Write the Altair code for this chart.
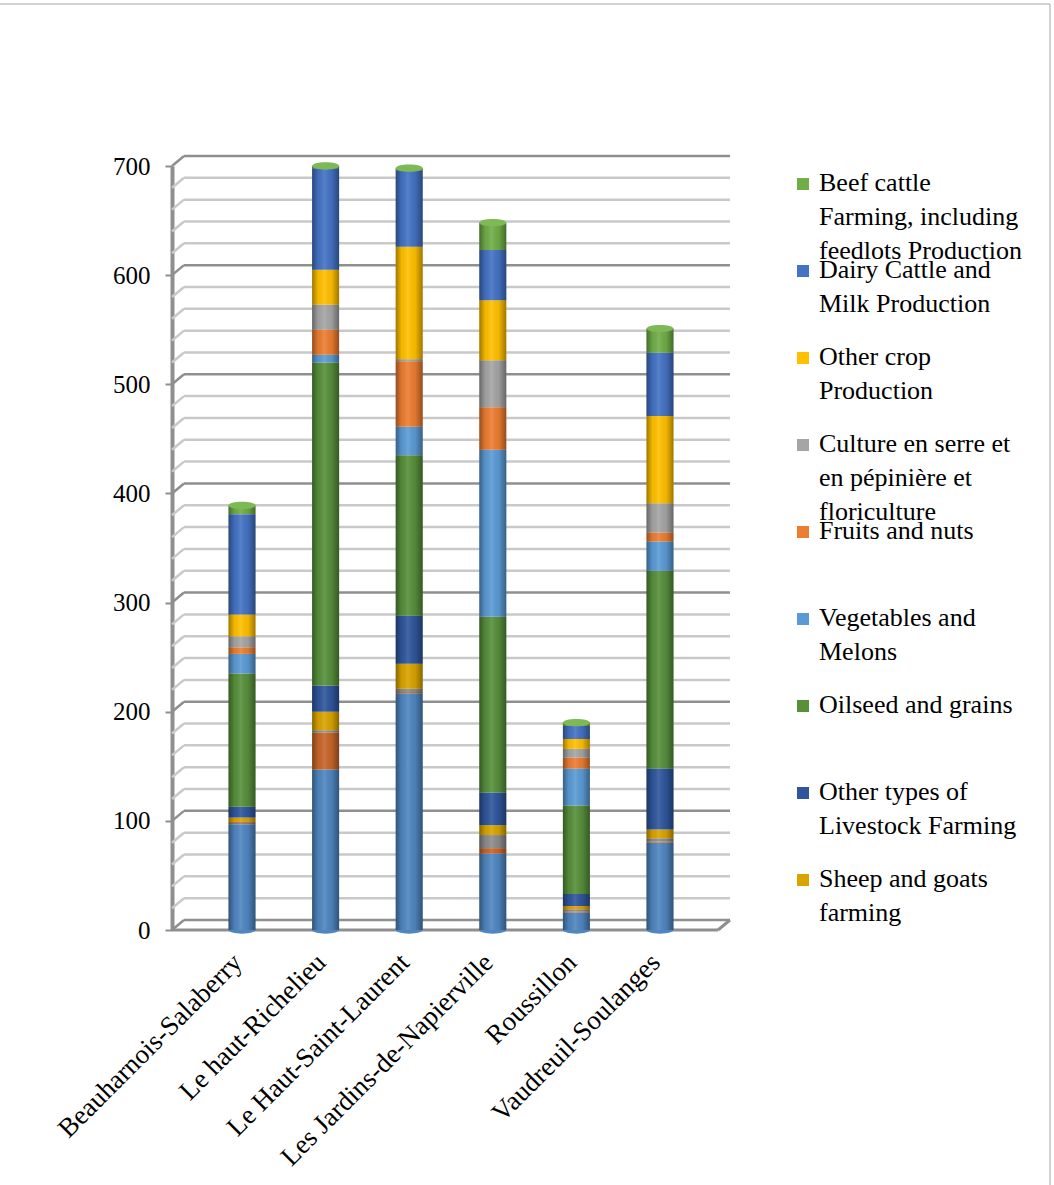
import altair as alt
import pandas as pd

# Census divisions (x axis)
regions = [
    "Beauharnois-Salaberry",
    "Le haut-Richelieu",
    "Le Haut-Saint-Laurent",
    "Les Jardins-de-Napierville",
    "Roussillon",
    "Vaudreuil-Soulanges",
]

# Farm types, stacked from the bottom of each column upward
series_names = [
    "Hog and pig farming",
    "Poultry and egg Production",
    "Other animal Production",
    "Sheep and goats farming",
    "Other types of Livestock Farming",
    "Oilseed and grains",
    "Vegetables and Melons",
    "Fruits and nuts",
    "Culture en serre et en pépinière et floriculture",
    "Other crop Production",
    "Dairy Cattle and Milk Production",
    "Beef cattle Farming, including feedlots Production",
]
series_colors = [
    "#4f86c0", "#c8652a", "#8c8c8c", "#d9a400", "#2f569c", "#578f3b",
    "#5b9bd5", "#ed7d31", "#a5a5a5", "#ffc000", "#4472c4", "#70ad47",
]

# Number of farms per type and division
hog = [97, 147, 217, 70, 16, 80]
poultry = [1, 34, 1, 5, 1, 1]
other_animal = [1, 2, 3, 12, 2, 3]
sheep_goats = [4, 17, 23, 9, 3, 8]
other_livestock = [10, 24, 44, 30, 11, 56]
oilseed = [122, 296, 147, 161, 81, 181]
vegetables = [18, 7, 26, 153, 34, 27]
fruits = [6, 23, 60, 39, 10, 8]
greenhouse = [10, 23, 2, 43, 8, 27]
other_crop = [20, 32, 103, 55, 9, 80]
dairy = [92, 93, 70, 46, 12, 58]
beef = [8, 2, 2, 25, 3, 22]

series_values = [hog, poultry, other_animal, sheep_goats, other_livestock, oilseed,
                 vegetables, fruits, greenhouse, other_crop, dairy, beef]

# Legend entries (top of the stack first) with their wrapped labels
legend_names = list(reversed(series_names))[:9]
legend_labels = [
    "Beef cattle\nFarming, including\nfeedlots Production",
    "Dairy Cattle and\nMilk Production",
    "Other crop\nProduction",
    "Culture en serre et\nen pépinière et\nfloriculture",
    "Fruits and nuts",
    "Vegetables and\nMelons",
    "Oilseed and grains",
    "Other types of\nLivestock Farming",
    "Sheep and goats\nfarming",
]

y_ticks = list(range(0, 701, 100))
grid_steps = list(range(0, 701, 20))

rows = []
for si, (name, vals) in enumerate(zip(series_names, series_values)):
    for region, v in zip(regions, vals):
        rows.append({"region": region, "series": name, "value": v, "order": si})
df = pd.DataFrame(rows)

totals = pd.DataFrame({
    "region": regions,
    "value": [sum(vals[i] for vals in series_values) for i in range(len(regions))],
})
zeros = pd.DataFrame({"region": regions, "value": [0] * len(regions)})
minor_df = pd.DataFrame({"value": [v for v in grid_steps if v % 100 != 0]})
major_df = pd.DataFrame({"value": y_ticks})
floor_df = pd.DataFrame({"value": [0]})
legend_df = pd.DataFrame({"series": legend_names, "label": legend_labels})

W, H = 558, 764
PAD_L, PAD_T = 172, 166
DEPTH_X, DEPTH_Y = 12, -10
SERIF = "Liberation Serif"
GRID_MAJOR = "#8f8f8f"
GRID_MINOR = "#c9c9c9"
FRAME = "#a6a6a6"

y_scale = alt.Scale(domain=[0, 700], nice=False, zero=True)
x_scale = alt.Scale(domain=regions, paddingInner=0.677, paddingOuter=0.676)
color_scale = alt.Scale(domain=series_names, range=series_colors)


def x_enc():
    return alt.X(
        "region:N", scale=x_scale, sort=regions,
        axis=alt.Axis(title=None, labelAngle=-45, labelAlign="right", labelBaseline="middle",
                      labelFont=SERIF, labelFontSize=27, labelColor="black",
                      labelPadding=28, labelOffset=-4, domain=False, ticks=False,
                      labelLimit=400),
    )


def y_plain():
    return alt.Y("value:Q", scale=y_scale, axis=None)


# back-wall gridlines with short diagonal connectors to the front axis
minor = alt.Chart(minor_df).mark_rule(
    color=GRID_MINOR, strokeWidth=2.5, yOffset=DEPTH_Y, y2Offset=DEPTH_Y
).encode(y=y_plain(), x=alt.value(DEPTH_X), x2=alt.value(W))
minor_diag = alt.Chart(minor_df).mark_rule(
    color=GRID_MINOR, strokeWidth=2.5, y2Offset=DEPTH_Y
).encode(y=y_plain(), y2="value:Q", x=alt.value(0), x2=alt.value(DEPTH_X))
major = alt.Chart(major_df).mark_rule(
    color=GRID_MAJOR, strokeWidth=2.5, yOffset=DEPTH_Y, y2Offset=DEPTH_Y
).encode(y=y_plain(), x=alt.value(DEPTH_X), x2=alt.value(W))
major_diag = alt.Chart(major_df).mark_rule(
    color=GRID_MAJOR, strokeWidth=2.5, y2Offset=DEPTH_Y
).encode(y=y_plain(), y2="value:Q", x=alt.value(0), x2=alt.value(DEPTH_X))
floor_front = alt.Chart(floor_df).mark_rule(color=GRID_MAJOR, strokeWidth=3).encode(
    y=y_plain(), x=alt.value(0), x2=alt.value(W - DEPTH_X))
floor_side = alt.Chart(floor_df).mark_rule(color=GRID_MAJOR, strokeWidth=3, y2Offset=DEPTH_Y).encode(
    y=y_plain(), y2="value:Q", x=alt.value(W - DEPTH_X), x2=alt.value(W))

# outer chart frame (top and right edges)
frame_top = alt.Chart(floor_df).mark_rule(color=FRAME, strokeWidth=1).encode(
    x=alt.value(-PAD_L), x2=alt.value(1050 - PAD_L), y=alt.value(4 - PAD_T))
frame_right = alt.Chart(floor_df).mark_rule(color=FRAME, strokeWidth=1).encode(
    x=alt.value(1050 - PAD_L), y=alt.value(4 - PAD_T), y2=alt.value(1185 - PAD_T))

# stacked columns
bars = alt.Chart(df).mark_bar().encode(
    x=x_enc(),
    y=alt.Y("value:Q", stack="zero", scale=y_scale,
            axis=alt.Axis(title=None, values=y_ticks, grid=False,
                          domainColor=GRID_MAJOR, domainWidth=4,
                          tickColor=GRID_MAJOR, tickWidth=2, tickSize=7,
                          labelFont=SERIF, labelFontSize=25, labelColor="black",
                          labelPadding=15)),
    color=alt.Color("series:N", scale=color_scale, legend=None),
    order=alt.Order("order:Q"),
)

ELLIPSE = "M-1,0 A1,0.27 0 1,1 1,0 A1,0.27 0 1,1 -1,0 Z"
base_caps = alt.Chart(zeros).mark_point(
    shape=ELLIPSE, size=729, filled=True, opacity=1, color=series_colors[0], strokeWidth=0
).encode(x=x_enc(), y=y_plain())

shade = alt.Chart(totals).mark_bar(
    color=alt.LinearGradient(
        gradient="linear", x1=0, x2=1, y1=0, y2=0,
        stops=[
            alt.GradientStop(color="rgba(0,0,0,0.38)", offset=0),
            alt.GradientStop(color="rgba(0,0,0,0.05)", offset=0.22),
            alt.GradientStop(color="rgba(255,255,255,0.10)", offset=0.45),
            alt.GradientStop(color="rgba(0,0,0,0.05)", offset=0.72),
            alt.GradientStop(color="rgba(0,0,0,0.38)", offset=1),
        ],
    )
).encode(x=x_enc(), y=y_plain())

top_caps = alt.Chart(totals).mark_point(
    shape=ELLIPSE, size=729, filled=True, opacity=1, color="#7dba55", strokeWidth=0
).encode(x=x_enc(), y=y_plain())

# legend to the right of the plot
leg_y = alt.Y("series:N", sort=legend_names,
              scale=alt.Scale(type="point", domain=legend_names, padding=0.391, align=0.265),
              axis=None)
leg_sq = alt.Chart(legend_df).mark_square(size=144, filled=True, opacity=1).encode(
    y=leg_y, x=alt.value(W + 73),
    color=alt.Color("series:N", scale=color_scale, legend=None))
leg_txt = alt.Chart(legend_df).mark_text(
    align="left", baseline="top", dy=-14, lineBreak="\n", lineHeight=34,
    font=SERIF, fontSize=26, color="black"
).encode(y=leg_y, x=alt.value(W + 89), text="label:N")

chart = alt.layer(
    frame_top, frame_right,
    minor, minor_diag, major, major_diag, floor_front, floor_side,
    bars, base_caps, shade, top_caps, leg_sq, leg_txt,
).resolve_scale(y="independent").properties(
    width=W, height=H,
    padding={"left": PAD_L, "top": PAD_T, "right": 1054 - PAD_L - W, "bottom": 1185 - PAD_T - H},
    autosize=alt.AutoSizeParams(type="none"),
    background="white",
).configure_view(stroke=None)

chart.save("out.html", embed_options={"renderer": "svg", "actions": False})
